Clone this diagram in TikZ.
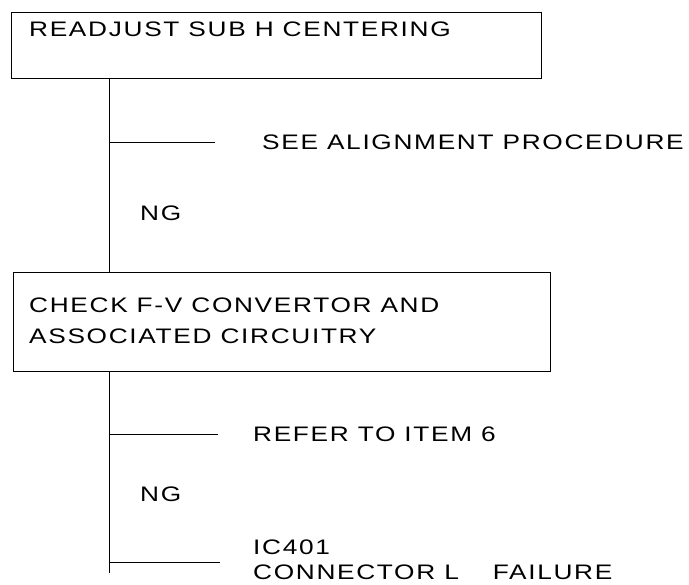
\documentclass[tikz,border=0pt]{standalone}
\usepackage{fontspec}
\setmainfont{Liberation Sans}[FakeStretch=1.25,LetterSpace=8]
\begin{document}
\begin{tikzpicture}[x=1pt,y=1pt,
  box/.style={draw, line width=1pt, anchor=north west, inner sep=0pt},
  txt/.style={anchor=base west, inner sep=0pt, font=\fontsize{21}{25}\selectfont},
  conn/.style={draw, line width=1pt}]
\useasboundingbox (0,0) rectangle (689,585);
% boxes
\node[box, minimum width=530pt, minimum height=66pt] (b1) at (11,573) {};
\node[txt] (t1) at (29,548) {READJUST SUB H CENTERING};
\node[box, minimum width=537pt, minimum height=99pt] (b2) at (13,313) {};
\node[txt] (t2a) at (29,272) {CHECK F-V CONVERTOR AND};
\node[txt] (t2b) at (29,241) {ASSOCIATED CIRCUITRY};
% junctions
\coordinate (j1) at (109,442);
\coordinate (e1) at (215,442);
\coordinate (j2) at (109,150);
\coordinate (e2) at (218,150);
\coordinate (j3) at (109,22);
\coordinate (e3) at (220,22);
\coordinate (bot) at (109,12);
% connectors
\path[conn] (b1.south -| j1) -- (b2.north -| j1);
\path[conn] (j1) -- (e1);
\path[conn] (b2.south -| j2) -- (bot);
\path[conn] (j2) -- (e2);
\path[conn] (j3) -- (e3);
% labels
\node[txt] (see) at (262,435) {SEE ALIGNMENT PROCEDURE};
\node[txt] (ng1) at (140,364) {NG};
\node[txt] (ref) at (253,143) {REFER TO ITEM 6};
\node[txt] (ng2) at (140,83) {NG};
\node[txt] (ic) at (253,30) {IC401};
\node[txt] (con) at (253,5) {CONNECTOR L\hspace{34pt}FAILURE};
\end{tikzpicture}
\end{document}
